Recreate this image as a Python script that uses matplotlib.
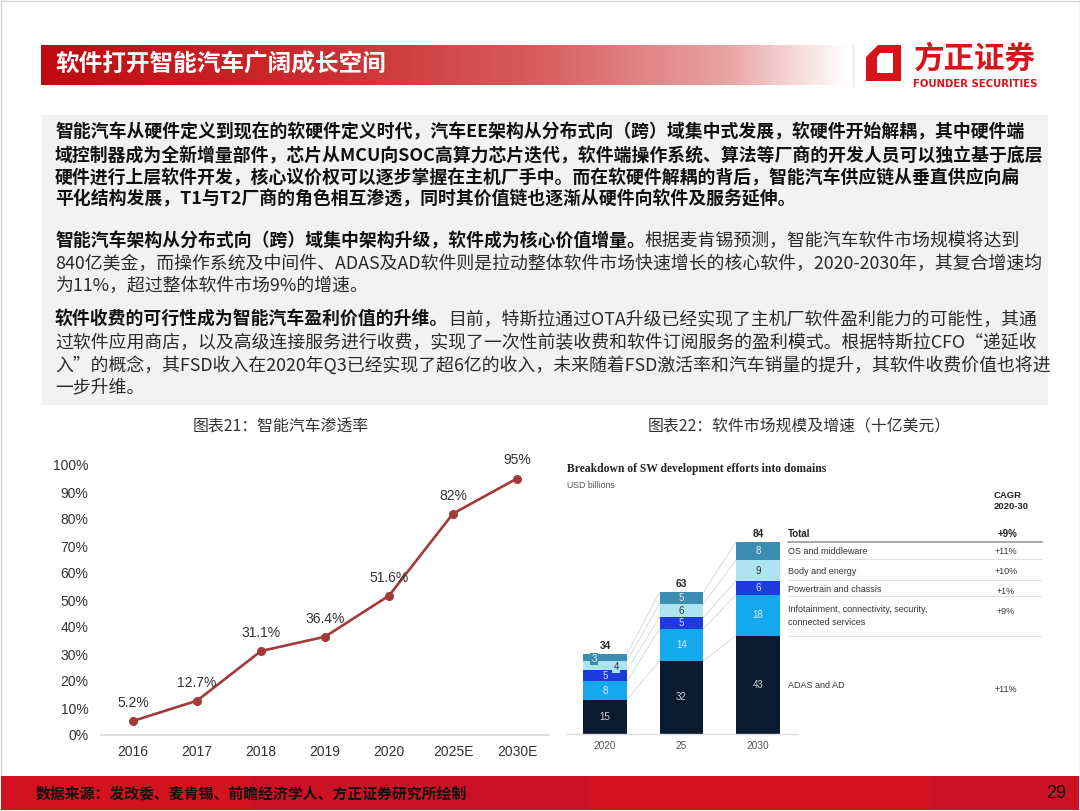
import numpy as np
import matplotlib
matplotlib.use("Agg")
import matplotlib.pyplot as plt
from matplotlib.colors import LinearSegmentedColormap
from matplotlib.patches import Rectangle, Polygon

plt.rcParams['font.family'] = ['Noto Sans CJK SC', 'DejaVu Sans']

## data
header_title = "软件打开智能汽车广阔成长空间"
footer_source = "数据来源：发改委、麦肯锡、前瞻经济学人、方正证券研究所绘制"
page_no = "29"

# (bold part, regular part) per line of the text block
text_lines = [
    ("智能汽车从硬件定义到现在的软硬件定义时代，汽车EE架构从分布式向（跨）域集中式发展，软硬件开始解耦，其中硬件端", ""),
    ("域控制器成为全新增量部件，芯片从MCU向SOC高算力芯片迭代，软件端操作系统、算法等厂商的开发人员可以独立基于底层", ""),
    ("硬件进行上层软件开发，核心议价权可以逐步掌握在主机厂手中。而在软硬件解耦的背后，智能汽车供应链从垂直供应向扁", ""),
    ("平化结构发展，T1与T2厂商的角色相互渗透，同时其价值链也逐渐从硬件向软件及服务延伸。", ""),
    ("智能汽车架构从分布式向（跨）域集中架构升级，软件成为核心价值增量。", "根据麦肯锡预测，智能汽车软件市场规模将达到"),
    ("", "840亿美金，而操作系统及中间件、ADAS及AD软件则是拉动整体软件市场快速增长的核心软件，2020-2030年，其复合增速均"),
    ("", "为11%，超过整体软件市场9%的增速。"),
    ("软件收费的可行性成为智能汽车盈利价值的升维。", "目前，特斯拉通过OTA升级已经实现了主机厂软件盈利能力的可能性，其通"),
    ("", "过软件应用商店，以及高级连接服务进行收费，实现了一次性前装收费和软件订阅服务的盈利模式。根据特斯拉CFO“递延收"),
    ("", "入”的概念，其FSD收入在2020年Q3已经实现了超6亿的收入，未来随着FSD激活率和汽车销量的提升，其软件收费价值也将进"),
    ("", "一步升维。"),
]
line_y = [132, 156, 178, 199, 241, 264, 286, 320, 343, 365, 387]

# chart 21
chart21_title = "图表21：智能汽车渗透率"
years = ["2016", "2017", "2018", "2019", "2020", "2025E", "2030E"]
penetration = [0.052, 0.127, 0.311, 0.364, 0.516, 0.82, 0.95]
pen_labels = ["5.2%", "12.7%", "31.1%", "36.4%", "51.6%", "82%", "95%"]

# chart 22
chart22_title = "图表22：软件市场规模及增速（十亿美元）"
sw_years = ["2020", "25", "2030"]
sw_totals = [34, 63, 84]
domains = ["ADAS and AD",
           "Infotainment, connectivity, security,\nconnected services",
           "Powertrain and chassis", "Body and energy", "OS and middleware"]
domain_vals = {
    "ADAS and AD": [15, 32, 43],
    "Infotainment, connectivity, security,\nconnected services": [8, 14, 18],
    "Powertrain and chassis": [5, 5, 6],
    "Body and energy": [4, 6, 9],
    "OS and middleware": [3, 5, 8],
}
domain_cagr = ["+11%", "+9%", "+1%", "+10%", "+11%"]
total_cagr = "+9%"

W, H = 1080, 811
fig = plt.figure(figsize=(10.8, 8.11), dpi=100)
bg = fig.add_axes([0, 0, 1, 1])
bg.axis('off')


def px_axes(x0, y0, x1, y1):
    return fig.add_axes([x0 / W, 1 - y1 / H, (x1 - x0) / W, (y1 - y0) / H])


# slide border
bg.add_patch(Rectangle((0.5, 0.5), W - 1, H - 1, fill=False, ec='#D5D5D5', lw=1))

# header bar with gradient
cmap = LinearSegmentedColormap.from_list("hdr", [(0, '#BF0A10'), (0.35, '#CB2E31'),
                                                 (0.62, '#D85E5F'), (0.85, '#E8A3A3'),
                                                 (1.0, '#FFFFFF')])
grad = np.linspace(0, 1, 256).reshape(1, -1)
bg.imshow(grad, extent=(41, 848, 85, 45), aspect='auto', cmap=cmap)
bg.text(55, 65, header_title, color='white', fontsize=17, fontweight='bold', va='center')
bg.plot([853, 853], [45, 86], color='#E6E6E6', lw=1)

# logo
bg.add_patch(Polygon([(878, 45), (901, 45), (901, 81), (866, 81), (866, 57)],
                     closed=True, fc='#D7141C', ec='none'))
bg.add_patch(Polygon([(880, 53), (893, 53), (893, 73), (877, 73), (877, 57)],
                     closed=True, fc='white', ec='none'))
bg.text(975, 59, "方正证券", color='#D7141C', fontsize=22, fontweight='bold',
        ha='center', va='center')
bg.text(975, 84, "FOUNDER SECURITIES", color='#D7141C', fontsize=7.3, fontweight='bold',
        ha='center', va='center', family=['DejaVu Sans'])

# text block
bg.add_patch(Rectangle((42, 115), 1006, 290, fc='#F2F2F2', ec='none'))
bg.set_xlim(0, W)
bg.set_ylim(H, 0)
renderer = fig.canvas.get_renderer()
for (bold_part, reg_part), y in zip(text_lines, line_y):
    x = 55
    if bold_part:
        t = bg.text(x, y, bold_part, fontsize=12.85, fontweight='bold', color='#111111', va='center')
        x += t.get_window_extent(renderer=renderer).width
    if reg_part:
        bg.text(x, y, reg_part, fontsize=12.85, color='#2A2A2A', va='center')

# chart titles
bg.text(281, 427, chart21_title, fontsize=11.4, color='#333333', ha='center', va='center')
bg.text(799, 427, chart22_title, fontsize=11.4, color='#333333', ha='center', va='center')

# footer
bg.add_patch(Rectangle((1, 776), W - 2, 34, fc='#D2131F', ec='none'))
bg.add_patch(Rectangle((250, 776), 340, 34, fc='#C8102A', ec='none', alpha=0.6))
bg.add_patch(Rectangle((930, 776), 149, 34, fc='#C8102A', ec='none', alpha=0.6))
bg.text(36, 793, footer_source, fontsize=10.7, fontstyle='italic', fontweight='bold',
        color='#111111', va='center')
bg.text(1066, 793, page_no, fontsize=13, color='#111111', ha='right', va='center',
        family=['Liberation Sans'])

## chart 21: line chart
ax = px_axes(101, 465, 549, 735)
xs = np.arange(len(years))
ax.plot(xs, penetration, color='#A33A3A', lw=1.9, marker='o', markersize=5.5, clip_on=False)
for xv, yv, lab in zip(xs, penetration, pen_labels):
    ax.annotate(lab, (xv, yv), xytext=(0, 13), textcoords='offset points', ha='center',
                va='center', fontsize=10, color='#333333', family=['Liberation Sans'])
ax.set_xlim(-0.5, len(years) - 0.5)
ax.set_ylim(0, 1)
ax.set_yticks(np.arange(0, 1.01, 0.1))
ax.set_yticklabels([f"{int(round(v * 100))}%" for v in np.arange(0, 1.01, 0.1)])
ax.set_xticks(xs)
ax.set_xticklabels(years)
for lab in ax.get_xticklabels() + ax.get_yticklabels():
    lab.set_family(['Liberation Sans'])
    lab.set_fontsize(10)
    lab.set_color('#333333')
ax.tick_params(length=0)
ax.tick_params(axis='y', pad=9)
ax.tick_params(axis='x', pad=7)
for s in ['top', 'right', 'left']:
    ax.spines[s].set_visible(False)
ax.spines['bottom'].set_color('#D9D9D9')
ax.spines['bottom'].set_linewidth(1.2)
ax.patch.set_alpha(0)

## chart 22: stacked bars
bg.text(567, 469, "Breakdown of SW development efforts into domains", fontsize=8.4,
        fontweight='bold', color='#222222', va='center', family=['Liberation Serif'])
bg.text(567, 486, "USD billions", fontsize=6.3, color='#555555', va='center',
        family=['Liberation Sans'])

bx = px_axes(567, 734 - 90 * 2.286, 797, 734)
bx.set_xlim(-0.497, 2.51)
bx.set_ylim(0, 90)
bx.axis('off')
bw = 0.575
seg_colors = ['#0B1B2F', '#16A8EC', '#1F3ADB', '#AEE3F1', '#3C8EB1']
seg_text = ['#D0D0D0', '#D6F1FF', '#D6E0FF', '#333333', '#E2EEF3']
bottoms = np.zeros(len(sw_years))
tops = []
for name, col, tc in zip(domains, seg_colors, seg_text):
    vals = np.array(domain_vals[name], dtype=float)
    bx.bar(np.arange(len(sw_years)), vals, bw, bottom=bottoms, color=col, edgecolor='none')
    for i, v in enumerate(vals):
        if i == 0 and name in ("Body and energy", "OS and middleware"):
            continue
        bx.text(i, bottoms[i] + v / 2, f"{int(v)}", ha='center', va='center', fontsize=7,
                color=tc, family=['Liberation Sans'])
    bottoms = bottoms + vals
    tops.append(bottoms.copy())

# small offset labels for 2020's thin segments
bx.text(-0.145, 32.8, str(domain_vals["OS and middleware"][0]), ha='center', va='center',
        fontsize=7, color='#E2EEF3', family=['Liberation Sans'],
        bbox=dict(boxstyle='square,pad=0.12', fc='#3C8EB1', ec='none'))
bx.text(0.145, 29.3, str(domain_vals["Body and energy"][0]), ha='center', va='center',
        fontsize=7, color='#333333', family=['Liberation Sans'],
        bbox=dict(boxstyle='square,pad=0.12', fc='#AEE3F1', ec='none'))

# connector lines between bars
for t in tops:
    for i in range(len(sw_years) - 1):
        bx.plot([i + bw / 2, i + 1 - bw / 2], [t[i], t[i + 1]], color='#D4D4D4', lw=0.6, zorder=0)

for i, tot in enumerate(sw_totals):
    bx.text(i, bottoms[i] + 1.5, str(tot), ha='center', va='bottom', fontsize=7.3,
            fontweight='bold', color='#222222', family=['Liberation Sans'])
    bx.text(i, -3.2, sw_years[i], ha='center', va='top', fontsize=7.3, color='#555555',
            family=['Liberation Sans'])
bx.plot([-0.497, 2.51], [0, 0], color='#DDDDDD', lw=1, clip_on=False)

# legend table
bg.text(994, 501, "CAGR\n2020-30", fontsize=6.8, fontweight='bold', color='#222222',
        va='center', linespacing=1.3, family=['Liberation Sans'])
bg.text(788, 534, "Total", fontsize=7, fontweight='bold', color='#222222', va='center',
        family=['Liberation Sans'])
bg.text(1007, 534, total_cagr, fontsize=7, fontweight='bold', color='#222222', ha='center',
        va='center', family=['Liberation Sans'])
bg.plot([788, 1042], [542, 542], color='#9A9A9A', lw=1.2)
row_y = {"OS and middleware": 551, "Body and energy": 571, "Powertrain and chassis": 589,
         "Infotainment, connectivity, security,\nconnected services": 616, "ADAS and AD": 686}
cagr_y = {"OS and middleware": 552, "Body and energy": 572, "Powertrain and chassis": 591,
          "Infotainment, connectivity, security,\nconnected services": 611, "ADAS and AD": 689}
for name, cg in zip(domains, domain_cagr):
    bg.text(788, row_y[name], name, fontsize=6.5, color='#333333', va='center',
            linespacing=1.6, family=['Liberation Sans'])
    bg.text(1006, cagr_y[name], cg, fontsize=6.5, color='#333333', ha='center', va='center',
            family=['Liberation Sans'])
for yl in [559, 580, 596, 636]:
    bg.plot([788, 1042], [yl, yl], color='#E0E0E0', lw=0.8)

bg.set_xlim(0, W)
bg.set_ylim(H, 0)

fig.savefig("out.png", dpi=100)
